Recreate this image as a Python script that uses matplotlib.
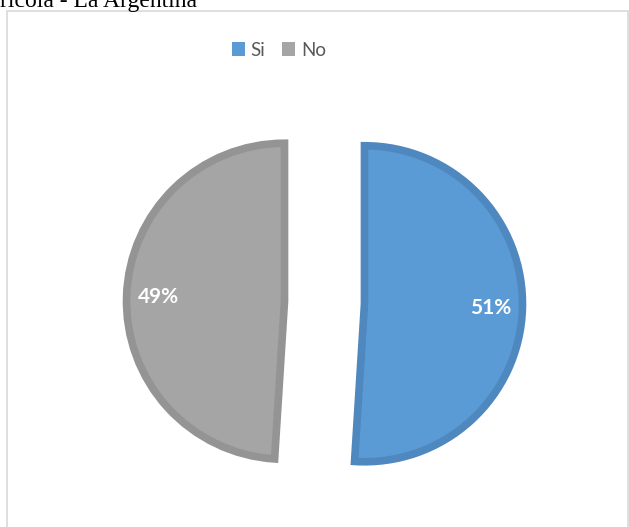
import matplotlib
matplotlib.use("Agg")
from matplotlib import pyplot as plt
from matplotlib.patches import Patch, Rectangle

# survey answers
labels = ["Si", "No"]
shares = [51, 49]
fill_colors = ["#5B9BD5", "#A5A5A5"]
edge_colors = ["#4F88BF", "#949494"]

W, H = 629, 527
fig = plt.figure(figsize=(W / 100, H / 100), dpi=100)
ax = fig.add_axes([0, 0, 1, 1])

# explode is in data units here (pixels), not a fraction of the radius
wedges, texts, autotexts = ax.pie(
    shares,
    colors=fill_colors,
    startangle=90,
    counterclock=False,
    center=(324.5, H - 302.5),
    radius=158,
    explode=[40, 40],
    autopct="%1.0f%%",
    pctdistance=0.8,
    textprops={"color": "white", "fontsize": 15, "fontweight": "bold", "family": "Lato"},
    wedgeprops={"linewidth": 5.5},
)
for w, ec in zip(wedges, edge_colors):
    w.set_edgecolor(ec)

ax.set_aspect("auto")
ax.set_xlim(0, W)
ax.set_ylim(0, H)
ax.axis("off")

# chart frame
ax.add_patch(Rectangle((7, -10), 621, H - 11 + 10, fill=False,
                       edgecolor="#D9D9D9", linewidth=1.2))

handles = [Patch(facecolor=c, edgecolor="none") for c in fill_colors]
fig.legend(handles, labels, loc="center", bbox_to_anchor=(279 / W, 1 - 50 / H),
           ncol=2, frameon=False, handlelength=0.7, handleheight=0.7,
           handletextpad=0.3, columnspacing=0.9,
           prop={"family": "Lato", "size": 13.5}, labelcolor="#595959")

fig.text(0, 1 - 7 / H, "ricola - La Argentina", family="Liberation Serif",
         fontsize=17, va="baseline", ha="left", color="black")

fig.savefig("out.png", dpi=100)
